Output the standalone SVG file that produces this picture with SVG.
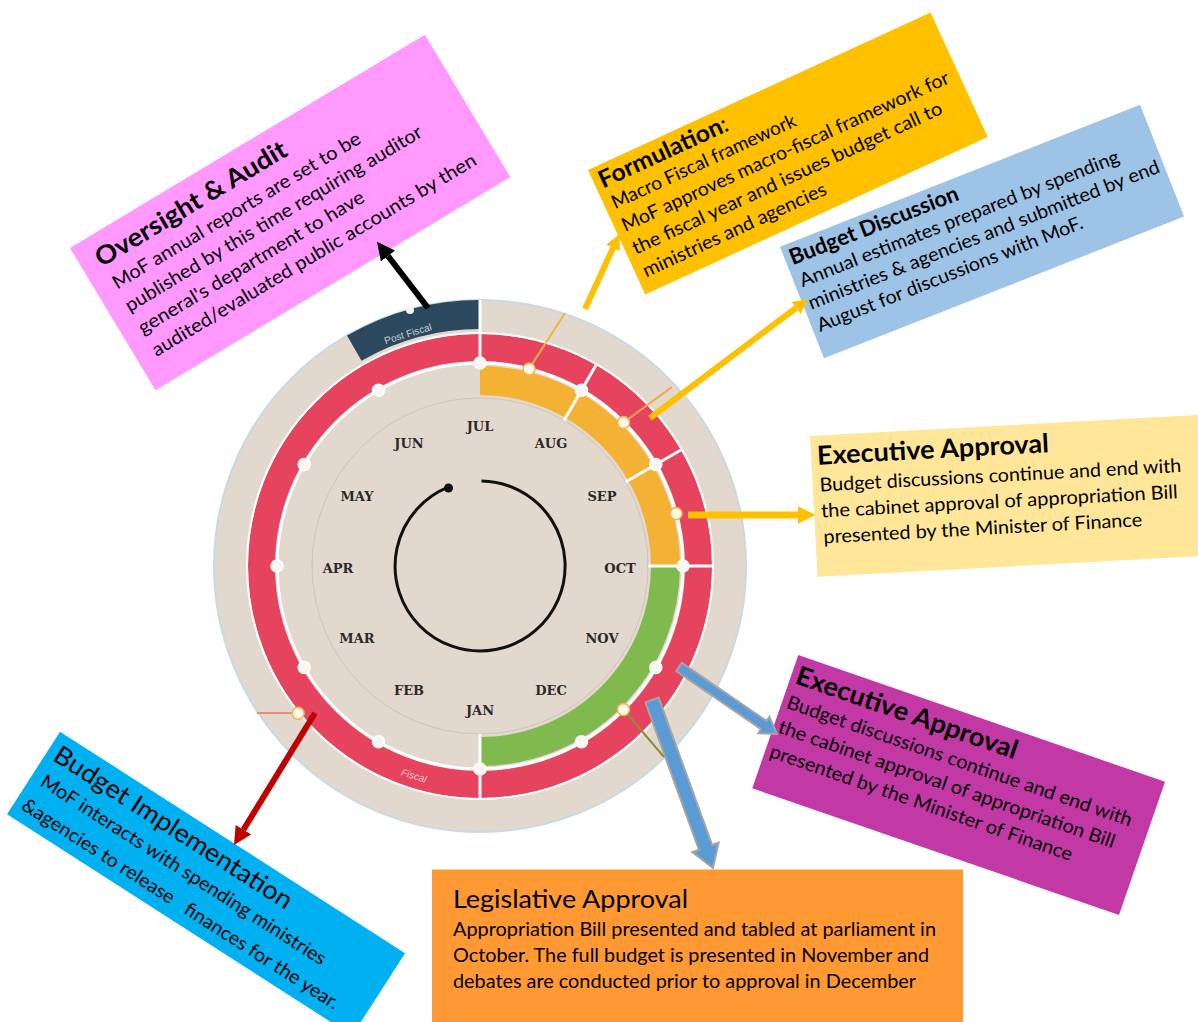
<svg xmlns="http://www.w3.org/2000/svg" width="1198" height="1022" viewBox="0 0 1198 1022">
<defs>
<style>
.tx{font-family:Lato,"Open Sans","Liberation Sans",sans-serif;fill:#000}
.b{font-weight:700}
.body{font-size:19px}
.mon{font-family:"DejaVu Serif","Liberation Serif",serif;font-weight:700;font-size:13px;fill:#2a2a2a;text-anchor:middle}
.sep{stroke:#fff;stroke-width:3}
.dot{fill:#fbf7f0;stroke:#fff;stroke-width:1.5}
.ldot{fill:#fff6e6;stroke:#f2b24c;stroke-width:1.5}
.blk{fill:#5B9BD5;stroke:#A5A5A5;stroke-width:2;stroke-linejoin:miter}
</style>
<marker id="mBlack" viewBox="0 0 10 10" refX="0" refY="5" markerWidth="3" markerHeight="3" orient="auto"><path d="M0,0 L10,5 L0,10 z" fill="#000"/></marker>
<marker id="mRed" viewBox="0 0 10 10" refX="0" refY="5" markerWidth="3" markerHeight="3" orient="auto"><path d="M0,0 L10,5 L0,10 z" fill="#C00000"/></marker>
<marker id="mOr" viewBox="0 0 10 10" refX="0" refY="5" markerWidth="2.5" markerHeight="2.5" orient="auto"><path d="M0,0 L10,5 L0,10 z" fill="#FFC000"/></marker>
</defs>
<rect width="1198" height="1022" fill="#fff"/>

<g id="wheel">
<circle cx="480" cy="566" r="266" fill="#E3D8CD" stroke="#C6DAE3" stroke-width="2"/>
<path d="M347,335.6 A266,266 0 0 1 480,300 L480,329 A237,237 0 0 0 361.5,360.8 Z" fill="#2C485E"/>
<circle cx="410" cy="310" r="4" fill="#f4f4f4"/>
<text x="409" y="337" font-family="Liberation Sans,sans-serif" font-size="10" fill="#c9d2da" text-anchor="middle" transform="rotate(-17 409 337)">Post Fiscal</text>
<circle cx="480" cy="566" r="168" fill="none" stroke="#cfc4b7" stroke-width="1"/>
<circle cx="480" cy="566" r="218.5" fill="none" stroke="#E5435E" stroke-width="27"/>
<circle cx="480" cy="566" r="233" fill="none" stroke="#fff" stroke-width="2"/>
<circle cx="480" cy="566" r="203" fill="none" stroke="#fff" stroke-width="3"/>
<path d="M480,380.5 A185.5,185.5 0 0 1 665.5,566" fill="none" stroke="#F4B235" stroke-width="29"/>
<path d="M665.5,566 A185.5,185.5 0 0 1 480,751.5" fill="none" stroke="#80BA4F" stroke-width="29"/>
<line class="sep" x1="480" y1="366" x2="480" y2="300"/>
<line class="sep" x1="564" y1="420.5" x2="596.5" y2="364.2"/>
<line class="sep" x1="625.5" y1="482" x2="681.8" y2="449.5"/>
<line class="sep" x1="648" y1="566" x2="713" y2="566"/>
<line class="sep" x1="480" y1="734" x2="480" y2="799"/>
<text x="413" y="779" font-family="Liberation Sans,sans-serif" font-style="italic" font-size="10" fill="#f6c6cf" text-anchor="middle" transform="rotate(17 413 779)">Fiscal</text>
<line x1="529" y1="369" x2="565" y2="313" stroke="#F0B24A" stroke-width="2"/>
<line x1="623.5" y1="422.5" x2="672" y2="387" stroke="#EFA848" stroke-width="2"/>
<line x1="623.5" y1="709.5" x2="664" y2="757" stroke="#8E8A3E" stroke-width="2"/>
<line x1="298" y1="713" x2="257" y2="713" stroke="#E98A7A" stroke-width="2"/>
<circle class="dot" cx="480" cy="363" r="6"/>
<circle class="dot" cx="581.5" cy="390.2" r="6"/>
<circle class="dot" cx="655.8" cy="464.5" r="6"/>
<circle class="dot" cx="683" cy="566" r="6"/>
<circle class="dot" cx="655.8" cy="667.5" r="6"/>
<circle class="dot" cx="581.5" cy="741.8" r="6"/>
<circle class="dot" cx="480" cy="769" r="6"/>
<circle class="dot" cx="378.5" cy="741.8" r="6"/>
<circle class="dot" cx="304.2" cy="667.5" r="6"/>
<circle class="dot" cx="277" cy="566" r="6"/>
<circle class="dot" cx="304.2" cy="464.5" r="6"/>
<circle class="dot" cx="378.5" cy="390.2" r="6"/>
<circle class="ldot" cx="529.1" cy="369" r="6"/>
<circle class="ldot" cx="623.5" cy="422.5" r="6"/>
<circle class="ldot" cx="676.1" cy="513.5" r="6"/>
<circle class="ldot" cx="623.5" cy="709.5" r="6" stroke="#b5b56a"/>
<circle class="ldot" cx="298.1" cy="713.3" r="6" stroke="#e98a7a"/>
<path d="M481.5,481 A85,85 0 1 1 448.2,487.2" fill="none" stroke="#111" stroke-width="3"/>
<circle cx="448.5" cy="488" r="4.5" fill="#111"/>
<text class="mon" x="480" y="431">JUL</text>
<text class="mon" x="551" y="448">AUG</text>
<text class="mon" x="602" y="501">SEP</text>
<text class="mon" x="620" y="573">OCT</text>
<text class="mon" x="602" y="643">NOV</text>
<text class="mon" x="551" y="695">DEC</text>
<text class="mon" x="480" y="715">JAN</text>
<text class="mon" x="409" y="695">FEB</text>
<text class="mon" x="357" y="643">MAR</text>
<text class="mon" x="338" y="573">APR</text>
<text class="mon" x="357" y="501">MAY</text>
<text class="mon" x="409" y="448">JUN</text>
</g>

<g id="oversight" transform="translate(70,248) rotate(-31)">
<rect width="414" height="166" fill="#FF99FF"/>
<text class="tx b" x="17" y="33" font-size="25.5" textLength="219" lengthAdjust="spacingAndGlyphs">Oversight &amp; Audit</text>
<text class="tx body" x="19" y="60" textLength="286" lengthAdjust="spacingAndGlyphs">MoF annual reports are set to be</text>
<text class="tx body" x="18" y="86" textLength="343" lengthAdjust="spacingAndGlyphs">published by this time requiring auditor</text>
<text class="tx body" x="18" y="112" textLength="260" lengthAdjust="spacingAndGlyphs">general's department to have</text>
<text class="tx body" x="18" y="138" textLength="375" lengthAdjust="spacingAndGlyphs">audited/evaluated public accounts by then</text>
</g>

<g id="formulation" transform="translate(588,170) rotate(-24.7)">
<rect width="377" height="137" fill="#FFC000"/>
<text class="tx" x="6" y="23" font-size="24" textLength="140" lengthAdjust="spacingAndGlyphs"><tspan class="b">Formulation</tspan>:</text>
<text class="tx body" x="8" y="47" textLength="201" lengthAdjust="spacingAndGlyphs">Macro Fiscal framework</text>
<text class="tx body" x="8" y="72" textLength="358" lengthAdjust="spacingAndGlyphs">MoF approves macro-fiscal framework for</text>
<text class="tx body" x="8" y="97" textLength="339" lengthAdjust="spacingAndGlyphs">the fiscal year and issues budget call to</text>
<text class="tx body" x="8" y="122" textLength="200" lengthAdjust="spacingAndGlyphs">ministries and agencies</text>
</g>

<g id="budget-discussion" transform="translate(780,246.7) rotate(-21.5)">
<rect width="387" height="120" fill="#9DC3E6"/>
<text class="tx b" x="5" y="22" font-size="22" textLength="180" lengthAdjust="spacingAndGlyphs">Budget Discussion</text>
<text class="tx body" x="6" y="46" textLength="342" lengthAdjust="spacingAndGlyphs">Annual estimates prepared by spending</text>
<text class="tx body" x="6" y="70" textLength="376" lengthAdjust="spacingAndGlyphs">ministries &amp; agencies and submitted by end</text>
<text class="tx body" x="6" y="94" textLength="284" lengthAdjust="spacingAndGlyphs">August for discussions with MoF.</text>
</g>

<g id="executive-approval-1" transform="translate(810,436) rotate(-3.1)">
<rect width="392" height="141" fill="#FFE699"/>
<text class="tx b" x="6" y="29" font-size="26" textLength="232" lengthAdjust="spacingAndGlyphs">Executive Approval</text>
<text class="tx body" x="7" y="56" textLength="362" lengthAdjust="spacingAndGlyphs">Budget discussions continue and end with</text>
<text class="tx body" x="7" y="82" textLength="357" lengthAdjust="spacingAndGlyphs">the cabinet approval of appropriation Bill</text>
<text class="tx body" x="8" y="108" textLength="319" lengthAdjust="spacingAndGlyphs">presented by the Minister of Finance</text>
</g>

<g id="executive-approval-2" transform="translate(798.3,655) rotate(19.06)">
<rect width="388" height="141" fill="#C239A5"/>
<text class="tx b" x="5" y="28" font-size="26" textLength="233" lengthAdjust="spacingAndGlyphs">Executive Approval</text>
<text class="tx body" x="5" y="54" textLength="364" lengthAdjust="spacingAndGlyphs">Budget discussions continue and end with</text>
<text class="tx body" x="5" y="80" textLength="355" lengthAdjust="spacingAndGlyphs">the cabinet approval of appropriation Bill</text>
<text class="tx body" x="5" y="106" textLength="319" lengthAdjust="spacingAndGlyphs">presented by the Minister of Finance</text>
</g>

<g id="budget-implementation" transform="translate(60,731.7) rotate(32.7)">
<rect width="410" height="98" fill="#00B0F0"/>
<text class="tx" x="8" y="28" font-size="25.5" textLength="278" lengthAdjust="spacingAndGlyphs">Budget Implementation</text>
<text class="tx body" x="11" y="56" textLength="335" lengthAdjust="spacingAndGlyphs">MoF interacts with spending ministries</text>
<text class="tx body" x="8" y="86" textLength="373" lengthAdjust="spacingAndGlyphs" xml:space="preserve">&amp;agencies to release   finances for the year.</text>
</g>

<g id="legislative-approval">
<rect x="432" y="869.5" width="531" height="152.5" fill="#FF9933"/>
<text class="tx" x="453" y="908" font-size="25.5" textLength="235" lengthAdjust="spacingAndGlyphs">Legislative Approval</text>
<text class="tx body" x="453" y="936" textLength="483" lengthAdjust="spacingAndGlyphs">Appropriation Bill presented and tabled at parliament in</text>
<text class="tx body" x="453" y="962" textLength="476" lengthAdjust="spacingAndGlyphs">October. The full budget is presented in November and</text>
<text class="tx body" x="453" y="988" textLength="463" lengthAdjust="spacingAndGlyphs">debates are conducted prior to approval in December</text>
</g>

<g id="connectors">
<line x1="428" y1="308" x2="388" y2="256" stroke="#000" stroke-width="6" marker-end="url(#mBlack)"/>
<line x1="315" y1="713" x2="243.4" y2="829.7" stroke="#C00000" stroke-width="6" marker-end="url(#mRed)"/>
<line x1="585" y1="309" x2="613" y2="248" stroke="#FFC000" stroke-width="6" marker-end="url(#mOr)"/>
<line x1="650" y1="418" x2="796" y2="308" stroke="#FFC000" stroke-width="6" marker-end="url(#mOr)"/>
<line x1="688" y1="515" x2="798" y2="515" stroke="#FFC000" stroke-width="7" marker-end="url(#mOr)"/>
<polygon class="blk" points="681.8,662.9 766.6,720.9 769.4,716.7 777,734 758.2,733.3 761,729.1 676.2,671.1"/>
<polygon class="blk" points="658.6,697.6 712.1,844.9 718.7,842.5 713,868 692.3,852.1 698.9,849.7 645.4,702.4"/>
</g>
</svg>
